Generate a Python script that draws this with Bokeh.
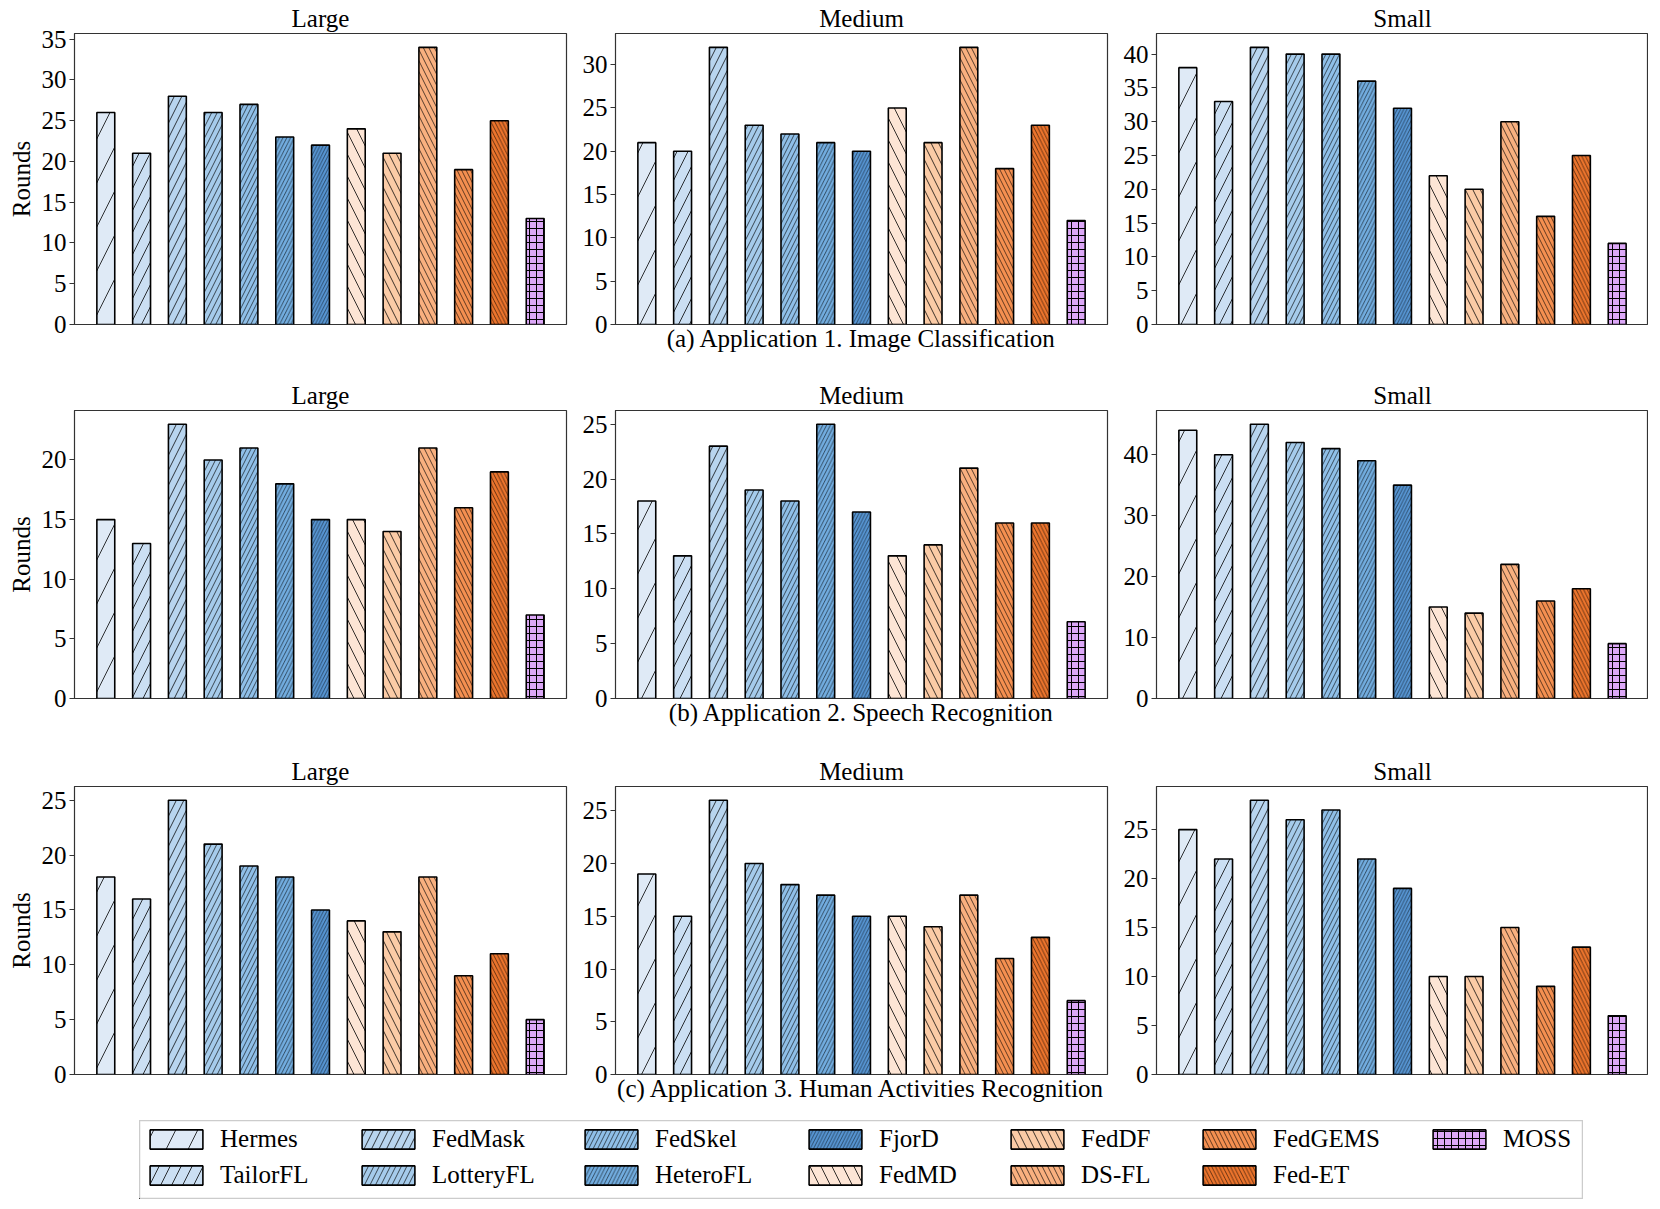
from bokeh.plotting import figure
from bokeh.models import Range1d, FixedTicker, Legend, LegendItem, ColumnDataSource, Spacer
from bokeh.layouts import column, row
from bokeh.embed import file_html
from bokeh.resources import INLINE

FONT = "Liberation Serif"

methods = ["Hermes", "TailorFL", "FedMask", "LotteryFL", "FedSkel", "HeteroFL", "FjorD",
           "FedMD", "FedDF", "DS-FL", "FedGEMS", "Fed-ET", "MOSS"]

# (a) Application 1. Image Classification
img_large = [26, 21, 28, 26, 27, 23, 22, 24, 21, 34, 19, 25, 13]
img_medium = [21, 20, 32, 23, 22, 21, 20, 25, 21, 32, 18, 23, 12]
img_small = [38, 33, 41, 40, 40, 36, 32, 22, 20, 30, 16, 25, 12]
# (b) Application 2. Speech Recognition
sr_large = [15, 13, 23, 20, 21, 18, 15, 15, 14, 21, 16, 19, 7]
sr_medium = [18, 13, 23, 19, 18, 25, 17, 13, 14, 21, 16, 16, 7]
sr_small = [44, 40, 45, 42, 41, 39, 35, 15, 14, 22, 16, 18, 9]
# (c) Application 3. Human Activities Recognition
har_large = [18, 16, 25, 21, 19, 18, 15, 14, 13, 18, 9, 11, 5]
har_medium = [19, 15, 26, 20, 18, 17, 15, 15, 14, 17, 11, 13, 7]
har_small = [25, 22, 28, 26, 27, 22, 19, 10, 10, 15, 9, 13, 6]

captions = ["(a) Application 1. Image Classification",
            "(b) Application 2. Speech Recognition",
            "(c) Application 3. Human Activities Recognition"]
sizes = ["Large", "Medium", "Small"]

# styles
fill_colors = ["#dfeaf6", "#cbdff3", "#b8d5ef", "#a5cbeb", "#8fbfe8", "#72ade0", "#5796d4",
               "#fde5d5", "#fbcba6", "#f9b07f", "#f48f50", "#ec742c", "#dca7f7"]
hatch_patterns = ["right_diagonal_line"] * 7 + ["left_diagonal_line"] * 5 + ["cross"]
hatch_scales = [44, 22, 15, 11, 9, 7.5, 6.5, 22, 15, 11, 9, 7.5, 7]
hatch_weights = [0.8, 0.8, 0.75, 0.65, 0.6, 0.55, 0.5, 0.8, 0.75, 0.65, 0.6, 0.55, 1.0]


def make_panel(values, title, tick_step, ylabel=None, caption=None,
               left=45, right=0, top=27, bottom=54, frame_h=288):
    ymax = max(values) * 1.05
    p = figure(frame_width=492, frame_height=frame_h,
               x_range=Range1d(-0.875, 12.875), y_range=Range1d(0, ymax),
               output_backend="svg", toolbar_location=None,
               min_border_left=left, min_border_right=right,
               min_border_top=top, min_border_bottom=bottom,
               x_axis_location="below" if caption else None,
               title=title)
    p.title.align = "center"
    p.title.text_font = FONT
    p.title.text_font_size = "25px"
    p.title.text_font_style = "normal"
    p.title.text_color = "black"
    p.title.standoff = 4
    p.xgrid.visible = False
    p.ygrid.visible = False
    p.outline_line_color = "#333333"
    p.outline_line_width = 1.2
    p.outline_line_alpha = 1.0
    p.background_fill_color = "white"
    p.border_fill_color = "white"

    src = ColumnDataSource(dict(x=list(range(len(methods))), top=values, name=methods,
                                color=fill_colors, hatch=hatch_patterns, hscale=hatch_scales,
                                hweight=hatch_weights))
    p.vbar(x="x", top="top", width=0.5, source=src, fill_color="color",
           line_color="black", line_width=1.6,
           hatch_pattern="hatch", hatch_scale="hscale", hatch_color="black",
           hatch_weight="hweight")

    ya = p.yaxis[0]
    ya.ticker = FixedTicker(ticks=list(range(0, int(ymax) + 1, tick_step)))
    ya.major_tick_out = 5
    ya.major_tick_in = 0
    ya.minor_tick_line_color = None
    ya.major_label_standoff = 3
    ya.axis_line_color = "#333333"
    ya.major_tick_line_color = "#333333"
    ya.major_label_text_font = FONT
    ya.major_label_text_font_size = "25px"
    ya.major_label_text_color = "black"
    if ylabel:
        ya.axis_label = ylabel
        ya.axis_label_text_font = FONT
        ya.axis_label_text_font_size = "25px"
        ya.axis_label_text_font_style = "normal"
        ya.axis_label_text_color = "black"
        ya.axis_label_standoff = 4

    if caption:
        xa = p.xaxis[0]
        xa.ticker = FixedTicker(ticks=[])
        xa.axis_line_color = None
        xa.major_tick_line_color = None
        xa.minor_tick_line_color = None
        xa.major_tick_out = 0
        xa.major_label_standoff = 0
        xa.axis_label = caption
        xa.axis_label_standoff = 0
        xa.axis_label_text_font = FONT
        xa.axis_label_text_font_size = "25px"
        xa.axis_label_text_font_style = "normal"
        xa.axis_label_text_color = "black"
    return p


# (values, tick steps, top border, frame height, bottom border)
data_rows = [
    ([img_large, img_medium, img_small], [5, 5, 5], 30, 291, 53),
    ([sr_large, sr_medium, sr_small], [5, 5, 10], 27, 288, 55),
    ([har_large, har_medium, har_small], [5, 5, 5], 27, 288, 46),
]

rows = []
for r, (vals, steps, top, fh, bottom) in enumerate(data_rows):
    pl = make_panel(vals[0], sizes[0], steps[0], ylabel="Rounds", left=74, right=4,
                    top=top, bottom=bottom, frame_h=fh)
    pm = make_panel(vals[1], sizes[1], steps[1], caption=captions[r], left=45, right=4,
                    top=top, bottom=bottom, frame_h=fh)
    ps = make_panel(vals[2], sizes[2], steps[2], left=45, right=0,
                    top=top, bottom=bottom, frame_h=fh)
    rows.append(row(pl, pm, ps))

# legend figure (proxy glyphs lie outside its visible range; only the legend shows)
lf = figure(width=1444, height=79, x_range=Range1d(10, 11), y_range=Range1d(10, 11),
            output_backend="svg", toolbar_location=None,
            x_axis_location=None, y_axis_location=None,
            min_border=0, min_border_left=0, min_border_right=0,
            min_border_top=0, min_border_bottom=0)
lf.xgrid.visible = False
lf.ygrid.visible = False
lf.outline_line_color = "#cccccc"
lf.outline_line_width = 1.5

rends = []
for i, m in enumerate(methods):
    rr = lf.vbar(x=[0], top=[1], width=0.5, fill_color=fill_colors[i], line_color="black",
                 line_width=1.6, hatch_pattern=hatch_patterns[i], hatch_scale=hatch_scales[i],
                 hatch_color="black", hatch_weight=hatch_weights[i])
    rends.append(rr)

leg_cols = [[0, 1], [2, 3], [4, 5], [6, 7], [8, 9], [10, 11], [12]]
leg_x = [4, 216, 439, 663, 865, 1057, 1287]
for ci, idxs in enumerate(leg_cols):
    items = [LegendItem(label=methods[i], renderers=[rends[i]]) for i in idxs]
    y0 = 10 if len(idxs) == 2 else 46
    leg = Legend(items=items, location=(leg_x[ci], y0), orientation="vertical",
                 border_line_color=None, background_fill_alpha=0, padding=0, margin=0,
                 spacing=8, glyph_width=66, glyph_height=24, label_standoff=11,
                 label_text_font=FONT, label_text_font_size="25px", label_text_color="black")
    lf.add_layout(leg, "center")

layout = column(rows[0], rows[1], rows[2], row(Spacer(width=139, height=79), lf))

open("out.html", "w").write(file_html(layout, INLINE))
